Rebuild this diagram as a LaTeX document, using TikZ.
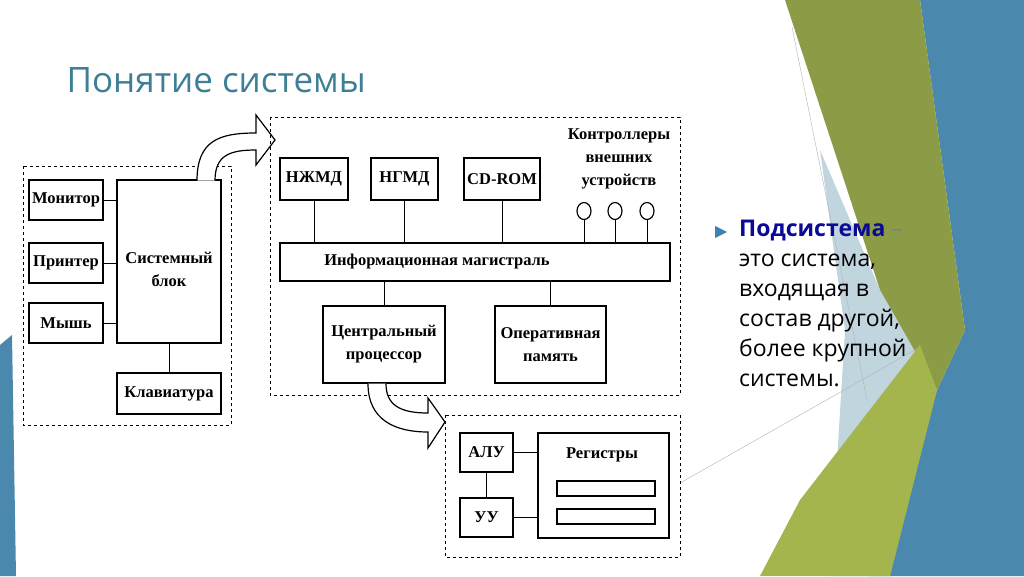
\documentclass[tikz,border=0pt]{standalone}
\usepackage{fontspec}
\usetikzlibrary{shapes.geometric}
\setmainfont{Liberation Serif}
\newfontfamily\tsans{Open Sans}
\definecolor{cblue}{RGB}{74,136,174}
\definecolor{colive}{RGB}{140,155,70}
\definecolor{clight}{RGB}{150,185,200}
\definecolor{clime}{RGB}{163,181,76}
\definecolor{ctitle}{RGB}{61,127,149}
\definecolor{cbullet}{RGB}{60,130,180}
\definecolor{cdark}{RGB}{10,10,150}
\begin{document}
\begin{tikzpicture}[x=1pt,y=-1pt,
  bx/.style={draw,line width=1.2pt,inner sep=0pt,align=center,font=\fontsize{16.5}{19}\selectfont\bfseries},
  lb/.style={font=\fontsize{16.5}{19}\selectfont\bfseries},
  dbox/.style={draw,dashed,line width=1pt},
  ln/.style={line width=1pt},
  arr/.style={draw,fill=white,line width=1.2pt,line join=miter}]
\useasboundingbox (0,0) rectangle (1024,576);
\fill[white] (0,0) rectangle (1024,576);
% decoration
\fill[cblue] (920,0)--(1024,0)--(1024,576)--(870,576)--(937,390)--(965,330)--cycle;
\fill[colive] (785,0)--(920,0)--(965,330)--(937,390)--(880,290)--cycle;
\fill[clight,opacity=0.6] (820,150)--(880,290)--(937,390)--(890,576)--(830,576)--(845,330)--cycle;
\fill[clime] (920,345)--(937,390)--(890,576)--(760,576)--(800,500)--cycle;
\fill[cblue] (0,345)--(12,335)--(16,576)--(0,576)--cycle;
\draw[gray!60,line width=0.4pt] (792,27)--(867,400);
\draw[gray!60,line width=0.4pt] (680,483)--(920,347);
% title
\node[anchor=west,font=\tsans\fontsize{35}{40}\selectfont,text=ctitle] (title) at (63,80) {Понятие системы};
% right text
\fill[cbullet] (715,226)--(727,232)--(715,238)--cycle;
\node[anchor=north west,align=left,inner sep=0pt,font=\tsans\fontsize{23}{30}\selectfont] (txt) at (739,220)
 {\textcolor{cdark}{\bfseries Подсистема} \textcolor{gray}{–}\\это система,\\входящая в\\состав другой,\\более крупной\\системы.};
% left group
\draw[dbox] (23,166) rectangle (231,425);
\node[bx,minimum width=74,minimum height=40] (mon) at (66,200) {Монитор};
\node[bx,minimum width=74,minimum height=40] (pr) at (66,263) {Принтер};
\node[bx,minimum width=74,minimum height=40] (ms) at (66,323) {Мышь};
\node[bx,minimum width=104,minimum height=163] (sys) at (169,261.5) {};
\node[lb,align=center,font=\fontsize{16.5}{23}\selectfont\bfseries] (sysl) at (169,269) {Системный\\блок};
\node[bx,minimum width=104,minimum height=41] (kl) at (169,393.5) {Клавиатура};
\foreach \n in {mon,pr,ms} \draw[ln] (\n.east) -- (\n.east -| sys.west);
\draw[ln] (sys.south) -- (kl.north);
% arrow 1
\draw[arr] (197,180.6) .. controls (197,140) and (220,133) .. (256,133) -- (256,115) -- (275,140) -- (256,165) -- (256,150) .. controls (230,150) and (215,155) .. (215,180.6);
% top group
\draw[dbox] (270,117) rectangle (680,395);
\node[bx,minimum width=68,minimum height=42] (n1) at (314,179) {НЖМД};
\node[bx,minimum width=67,minimum height=42] (n2) at (404.5,179) {НГМД};
\node[bx,minimum width=76,minimum height=42] (n3) at (502,179) {CD-ROM};
\node[bx,minimum width=390,minimum height=38] (bus) at (475,262) {};
\node[lb] (busl) at (437,262) {Информационная магистраль};
\node[font=\fontsize{16.5}{23}\selectfont\bfseries,align=center] (ctl) at (619,159) {Контроллеры\\внешних\\устройств};
\foreach \x/\n in {584/c1,615/c2,647/c3} {
  \node[draw,ellipse,line width=1.2pt,minimum width=14,minimum height=17,inner sep=0pt] (\n) at (\x,211) {};
}
\foreach \n in {n1,n2,n3,c1,c2,c3} \draw[ln] (\n.south) -- (\n.south |- bus.north);
\node[bx,minimum width=122,minimum height=77,font=\fontsize{16.5}{23}\selectfont\bfseries] (cpu) at (384,344.5) {Центральный\\процессор};
\node[bx,minimum width=111,minimum height=77,font=\fontsize{16.5}{23}\selectfont\bfseries] (ram) at (550.5,344.5) {Оперативная\\память};
\draw[ln] (cpu.north) -- (cpu.north |- bus.south);
\draw[ln] (ram.north) -- (ram.north |- bus.south);
% arrow 2
\draw[arr] (368,383.6) .. controls (368,420) and (395,432) .. (428,432) -- (428,448) -- (445,422) -- (428,398) -- (428,413) .. controls (400,413) and (386,405) .. (386,383.6);
% bottom group
\draw[dbox] (445,415) rectangle (680,557);
\node[bx,minimum width=53,minimum height=39] (alu) at (486.5,452.5) {АЛУ};
\node[bx,minimum width=53,minimum height=39] (uu) at (486.5,517.5) {УУ};
\node[bx,minimum width=131,minimum height=105] (reg) at (603.5,485.5) {};
\node[lb] (regl) at (602,455) {Регистры};
\draw[line width=1.2pt] (557,481) rectangle (655,496);
\draw[line width=1.2pt] (557,509) rectangle (655,524);
\draw[ln] (alu.east) -- (alu.east -| reg.west);
\draw[ln] (uu.east) -- (uu.east -| reg.west);
\draw[ln] (alu.south) -- (uu.north);
\end{tikzpicture}
\end{document}
